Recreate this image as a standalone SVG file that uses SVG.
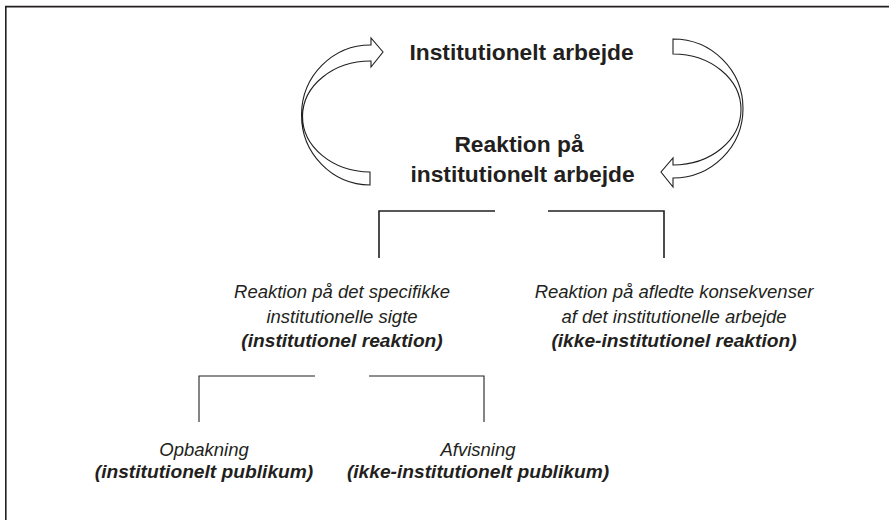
<svg xmlns="http://www.w3.org/2000/svg" width="889" height="520" viewBox="0 0 889 520">
<style>
text{font-family:"Liberation Sans",Arial,sans-serif;fill:#231f20;text-anchor:middle}
.h{font-size:22.8px;font-weight:bold}
.i{font-size:18.5px;font-style:italic}
.bi{font-size:19.2px;font-style:italic;font-weight:bold}
.frame{fill:none;stroke:#231f20;stroke-width:1.6}
.arr{fill:#fff;stroke:#231f20;stroke-width:1.1;stroke-linejoin:miter}
.br1{fill:none;stroke:#231f20;stroke-width:1.6}
.br2{fill:none;stroke:#231f20;stroke-width:1.1}
</style>
<rect width="889" height="520" fill="#fff"/>
<path class="frame" d="M5.8,520 V6.6 H889"/>
<g id="connectors">
<path class="arr" d="M370,185 A69,70 0 0 1 371,45 L371,38 L383,52 L371,67 L371,61 A68,55.5 0 0 0 370,172 Z"/>
<path class="arr" d="M673,39 A70,69.5 0 0 1 673,178 L673,187 L661,172 L673,158 L673,165 A68,55.5 0 0 0 673,54 Z"/>
<path class="br1" d="M379,258 V211 H495 M548,211 H664 V258"/>
<path class="br2" d="M199,422 V376 H315 M369,376 H484 V422"/>
</g>
<g id="node-institutionelt-arbejde">
<text class="h" x="521.5" y="60">Institutionelt arbejde</text>
</g>
<g id="node-reaktion">
<text class="h" x="519" y="152">Reaktion på</text>
<text class="h" x="522.5" y="182">institutionelt arbejde</text>
</g>
<g id="node-institutionel-reaktion">
<text class="i" x="342" y="298">Reaktion på det specifikke</text>
<text class="i" x="342" y="323">institutionelle sigte</text>
<text class="bi" x="342" y="347">(institutionel reaktion)</text>
</g>
<g id="node-ikke-institutionel-reaktion">
<text class="i" x="674" y="298">Reaktion på afledte konsekvenser</text>
<text class="i" x="674" y="323">af det institutionelle arbejde</text>
<text class="bi" x="674" y="347">(ikke-institutionel reaktion)</text>
</g>
<g id="node-opbakning">
<text class="i" x="204" y="456">Opbakning</text>
<text class="bi" x="204" y="478">(institutionelt publikum)</text>
</g>
<g id="node-afvisning">
<text class="i" x="478" y="456">Afvisning</text>
<text class="bi" x="478" y="478">(ikke-institutionelt publikum)</text>
</g>
</svg>
